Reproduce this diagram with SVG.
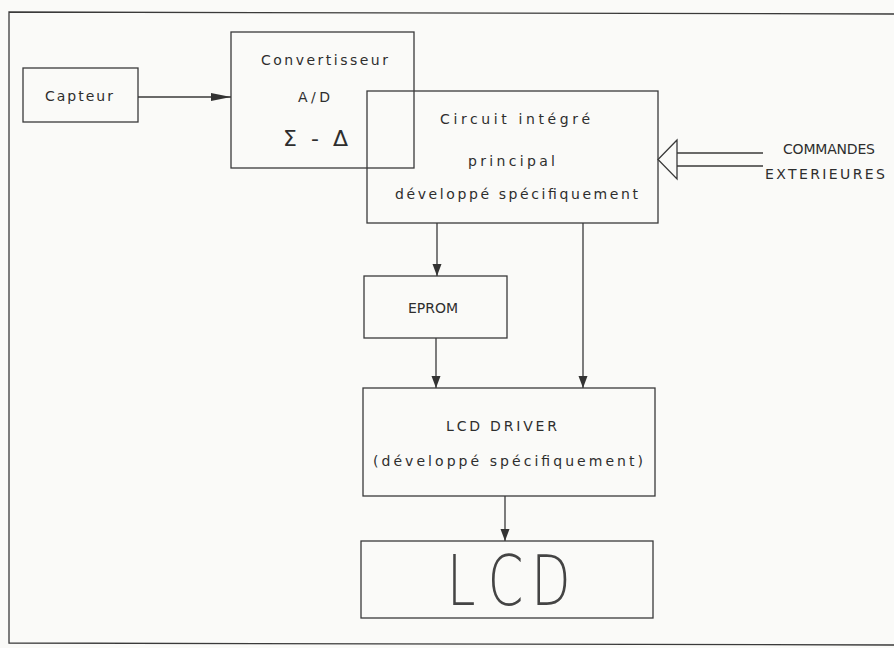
<svg xmlns="http://www.w3.org/2000/svg" width="894" height="648" viewBox="0 0 894 648">
<defs>
<style>
.ln{stroke:#3a3a3a;stroke-width:1.3;fill:none}
.bx{stroke:#3a3a3a;stroke-width:1.3;fill:none}
.t{font-family:"DejaVu Sans","Liberation Sans",sans-serif;font-size:14px;fill:#2e2e2e;text-anchor:start}
.big{font-family:"DejaVu Sans ExtraLight","DejaVu Sans",sans-serif;font-weight:200;font-size:69px;fill:#444}
</style>
<marker id="ah" markerUnits="userSpaceOnUse" markerWidth="12" markerHeight="10" refX="12" refY="5" orient="auto">
<path d="M0,0.5 L12,5 L0,9.5 z" fill="#333"/>
</marker>
<marker id="ahl" markerUnits="userSpaceOnUse" markerWidth="20" markerHeight="9" refX="20" refY="4.5" orient="auto">
<path d="M0,0.5 L20,4.5 L0,8.5 z" fill="#333"/>
</marker>
</defs>
<rect x="0" y="0" width="894" height="648" fill="#fafaf8"/>
<g id="frame">
<path class="ln" d="M894,14 L9,12 L9,643 L894,645"/>
</g>
<g id="capteur">
<rect class="bx" x="23" y="68" width="115" height="54"/>
<text class="t" x="45" y="101" textLength="68" lengthAdjust="spacing">Capteur</text>
</g>
<g id="convertisseur">
<rect class="bx" x="231" y="32" width="183" height="136"/>
<text class="t" x="261" y="65" textLength="127" lengthAdjust="spacing">Convertisseur</text>
<text class="t" x="298" y="102" textLength="32" lengthAdjust="spacing">A/D</text>
<text class="t" x="283" y="146" style="font-size:22px" textLength="65" lengthAdjust="spacing">Σ - Δ</text>
</g>
<g id="circuit">
<rect class="bx" x="367" y="91" width="291" height="132"/>
<text class="t" x="440" y="124" textLength="150" lengthAdjust="spacing">Circuit intégré</text>
<text class="t" x="468" y="166" textLength="87" lengthAdjust="spacing">principal</text>
<text class="t" x="395" y="199" textLength="243" lengthAdjust="spacing">développé spécifiquement</text>
</g>
<g id="commandes">
<text class="t" x="783" y="154" textLength="92" lengthAdjust="spacing">COMMANDES</text>
<text class="t" x="765" y="179" textLength="120" lengthAdjust="spacing">EXTERIEURES</text>
</g>
<g id="eprom">
<rect class="bx" x="364" y="276" width="143" height="62"/>
<text class="t" x="408" y="313" textLength="50" lengthAdjust="spacing">EPROM</text>
</g>
<g id="lcd-driver">
<rect class="bx" x="363" y="388" width="292" height="108"/>
<text class="t" x="446" y="431" textLength="111" lengthAdjust="spacing">LCD DRIVER</text>
<text class="t" x="373" y="466" textLength="270" lengthAdjust="spacing">(développé spécifiquement)</text>
</g>
<g id="lcd">
<rect class="bx" x="361" y="541" width="292" height="77"/>
<text class="big" transform="translate(447,605) scale(0.74,1)" x="0 55 114">LCD</text>
</g>
<g id="connectors">
<line class="ln" x1="138" y1="97" x2="231" y2="97" marker-end="url(#ahl)"/>
<line class="ln" x1="437" y1="223" x2="437" y2="276" marker-end="url(#ah)"/>
<line class="ln" x1="583" y1="223" x2="583" y2="388" marker-end="url(#ah)"/>
<line class="ln" x1="436" y1="338" x2="436" y2="388" marker-end="url(#ah)"/>
<line class="ln" x1="505" y1="496" x2="505" y2="541" marker-end="url(#ah)"/>
<line class="ln" x1="677" y1="153" x2="763" y2="153"/>
<line class="ln" x1="677" y1="166" x2="763" y2="166"/>
<path class="ln" d="M677,140 L658,159.5 L677,179 Z"/>
</g>
</svg>
